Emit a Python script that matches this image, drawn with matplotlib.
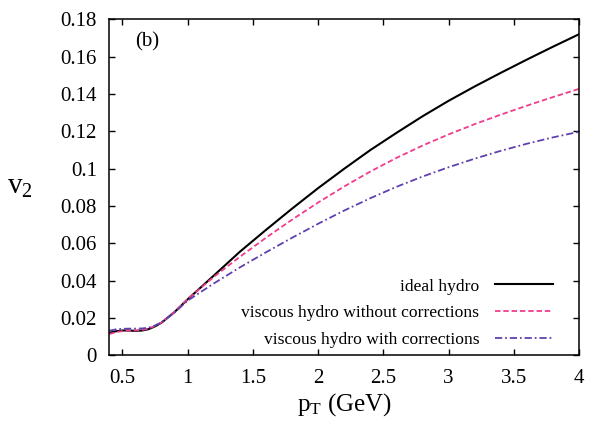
import numpy as np
import matplotlib
matplotlib.use("Agg")
import matplotlib.pyplot as plt

# transverse momentum grid (GeV)
pt = [0.40, 0.45, 0.50, 0.55, 0.60, 0.65, 0.70, 0.75, 0.80, 0.90, 1.00, 1.20,
      1.40, 1.60, 1.80, 2.00, 2.20, 2.40, 2.60, 2.80, 3.00, 3.20, 3.40, 3.60,
      3.80, 4.00]

# elliptic flow v2(pT)
v2_ideal = [0.0121, 0.0129, 0.0133, 0.0133, 0.0131, 0.0133, 0.0140, 0.0155,
            0.0175, 0.0232, 0.0300, 0.0427, 0.0555, 0.0672, 0.0786, 0.0896,
            0.1000, 0.1100, 0.1192, 0.1281, 0.1364, 0.1441, 0.1514, 0.1585,
            0.1654, 0.1721]
v2_visc_nocorr = [0.0114, 0.0124, 0.0130, 0.0133, 0.0133, 0.0136, 0.0143,
                  0.0157, 0.0176, 0.0233, 0.0302, 0.0420, 0.0528, 0.0630,
                  0.0727, 0.0819, 0.0905, 0.0985, 0.1058, 0.1124, 0.1184,
                  0.1239, 0.1290, 0.1338, 0.1384, 0.1428]
v2_visc_corr = [0.0132, 0.0139, 0.0142, 0.0143, 0.0143, 0.0144, 0.0148,
                0.0160, 0.0177, 0.0229, 0.0293, 0.0385, 0.0471, 0.0552,
                0.0630, 0.0705, 0.0776, 0.0842, 0.0903, 0.0958, 0.1008,
                0.1054, 0.1096, 0.1134, 0.1168, 0.1198]

labels = ["ideal hydro",
          "viscous hydro without corrections",
          "viscous hydro with corrections"]

x_ticks = [0.5, 1, 1.5, 2, 2.5, 3, 3.5, 4]
x_ticklabels = ["0.5", "1", "1.5", "2", "2.5", "3", "3.5", "4"]
y_ticks = [0, 0.02, 0.04, 0.06, 0.08, 0.1, 0.12, 0.14, 0.16, 0.18]
y_ticklabels = ["0", "0.02", "0.04", "0.06", "0.08", "0.1", "0.12", "0.14",
                "0.16", "0.18"]

plt.rcParams["font.family"] = ["Liberation Serif", "DejaVu Serif"]
plt.rcParams["mathtext.fontset"] = "custom"
plt.rcParams["mathtext.rm"] = "Liberation Serif"
plt.rcParams["mathtext.it"] = "Liberation Serif"

fig = plt.figure(figsize=(5.91, 4.22), dpi=100)
ax = fig.add_axes([0.185, 0.158, 0.795, 0.796])

ax.plot(pt, v2_ideal, color="black", lw=1.5, label=labels[0])
ax.plot(pt, v2_visc_nocorr, color="#f03c8c", lw=1.3,
        dashes=(3.0, 1.6), label=labels[1])
ax.plot(pt, v2_visc_corr, color="#6040b0", lw=1.3,
        dashes=(4.0, 1.6, 1.0, 1.6), label=labels[2])

ax.set_xlim(0.4, 4.0)
ax.set_ylim(0, 0.18)
ax.set_xticks(x_ticks)
ax.set_xticklabels(x_ticklabels)
ax.set_yticks(y_ticks)
ax.set_yticklabels(y_ticklabels)
ax.tick_params(direction="in", length=4, width=1.0, labelsize=15,
               top=True, right=True)
ax.tick_params(axis="x", pad=10)
ax.tick_params(axis="y", pad=9)
for s in ax.spines.values():
    s.set_linewidth(1.1)

ax.set_xlabel(r"p$_\mathregular{T}$ (GeV)", fontsize=18, va="center")
ax.xaxis.set_label_coords(0.5, -0.148)
ax.set_ylabel(r"v$_\mathregular{2}$", fontsize=21, rotation=0,
              ha="center", va="center")
ax.yaxis.set_label_coords(-0.19, 0.5)

ax.text(0.08, 0.932, "(b)", transform=ax.transAxes, fontsize=15,
        ha="center", va="center")

ax.legend(loc="lower right", bbox_to_anchor=(0.97, -0.015), frameon=False,
          markerfirst=False, fontsize=12.6, handlelength=3.3,
          handletextpad=0.9, labelspacing=0.6, borderpad=0.2)

fig.savefig("out.png", dpi=100)
